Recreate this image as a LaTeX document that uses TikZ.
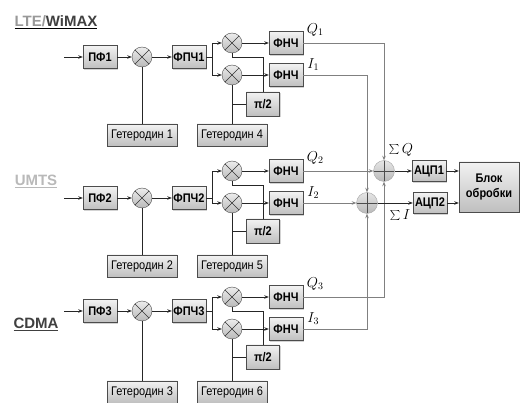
\documentclass[tikz,border=0pt]{standalone}
\usepackage{fontspec}
\setmainfont{Liberation Sans}
\newfontfamily\condfont[FakeStretch=0.88]{Liberation Sans}
\usetikzlibrary{arrows.meta,shadows,calc}
\begin{document}
\begin{tikzpicture}[x=1pt,y=-1pt,
 blk/.style={draw=gray!60!black, top color=gray!10, bottom color=gray!50, minimum width=34pt, minimum height=23pt, inner sep=0pt, font=\condfont\bfseries\fontsize{12.5}{14}\selectfont, drop shadow={shadow xshift=1.2pt,shadow yshift=-1.2pt,opacity=0.35}},
 het/.style={blk, minimum width=70pt, minimum height=22pt, font=\condfont\fontsize{12.5}{14}\selectfont},
 mix/.style={circle, draw=gray!60!black, top color=gray!15, bottom color=gray!55, minimum size=20pt, inner sep=0pt, path picture={\draw[gray!40!black] (path picture bounding box.north west) -- (path picture bounding box.south east) (path picture bounding box.north east) -- (path picture bounding box.south west);}},
 add/.style={circle, draw=gray!70, top color=gray!20, bottom color=gray!55, minimum size=21pt, inner sep=0pt, path picture={\draw[gray!60!black] (path picture bounding box.north) -- (path picture bounding box.south) (path picture bounding box.west) -- (path picture bounding box.east);}},
 sig/.style={draw=black!85, line width=0.8pt},
 arr/.style={sig, -{Stealth[length=4.5pt,width=3.5pt]}},
 gsig/.style={draw=black!50, line width=0.8pt},
 garr/.style={gsig, -{Stealth[length=4.5pt,width=3.5pt]}},
 mlabel/.style={font=\fontsize{14}{16}\selectfont, inner sep=0pt},
 std/.style={font=\bfseries\fontsize{15}{17}\selectfont, inner sep=0pt}
]
\useasboundingbox (0,0) rectangle (520,403);

% standard labels
\node[std] (lte) at (56,22) {\underline{\textcolor{gray!80}{LTE/}\textcolor{black!75}{WiMAX}}};
\node[std,text=gray!55] (umts) at (36,181) {\underline{UMTS}};
\node[std,text=black!75] (cdma) at (36,324) {\underline{CDMA}};

\foreach \r/\hb/\yp/\yu/\yl/\ypi/\yh in {1/4/57/43/75/104/135, 2/5/198/171/203/231/266, 3/6/311/297/329/357/392}{
  \coordinate (in\r) at (64,\yp);
  \node[blk] (pf\r) at (100,\yp) {ПФ\r};
  \node[mix] (m\r) at (142,\yp) {};
  \node[blk] (fp\r) at (189,\yp) {ФПЧ\r};
  \coordinate (br\r) at (212,\yp);
  \node[mix] (mu\r) at (232,\yu) {};
  \node[mix] (ml\r) at (232,\yl) {};
  \node[blk] (fq\r) at (286,\yu) {ФНЧ};
  \node[blk] (fi\r) at (286,\yl) {ФНЧ};
  \node[blk, minimum width=33pt, minimum height=24pt] (pi\r) at (263,\ypi) {π/2};
  \node[het] (ha\r) at (142,\yh) {Гетеродин \r};
  \node[het] (hb\r) at (232,\yh) {Гетеродин \hb};
  \node[mlabel] (lq\r) at ($(fq\r.east)+(12,-13)$) {$Q_{\r}$};
  \node[mlabel] (li\r) at ($(fi\r.east)+(10,-10)$) {$I_{\r}$};
}

% summation and output
\node[add] (sq) at (384,171) {};
\node[add] (si) at (367,203) {};
\node[mlabel] (lsq) at (401,150) {$\sum Q$};
\node[mlabel] (lsi) at (400,215) {$\sum I$};
\node[blk, minimum height=21pt] (adc1) at (429,171) {АЦП1};
\node[blk, minimum height=21pt] (adc2) at (430,203) {АЦП2};
\node[blk, minimum width=60pt, minimum height=50pt, align=center, font=\condfont\bfseries\fontsize{12.5}{15}\selectfont] (blok) at (489,187) {Блок\\обробки};

\foreach \r in {1,2,3}{
  \draw[arr] (in\r) -- (pf\r.west);
  \draw[arr] (pf\r) -- (m\r);
  \draw[arr] (m\r) -- (fp\r);
  \draw[sig] (ha\r.north) -- (m\r.south);
  \draw[sig] (fp\r.east) -- (br\r);
  \draw[arr] (br\r) |- (mu\r.west);
  \draw[arr] (br\r) |- (ml\r.west);
  \draw[arr] (mu\r.east) -- (fq\r.west);
  \draw[arr] (ml\r.east) -- (fi\r.west);
  \draw[sig] (hb\r.north) -- (ml\r.south);
  \draw[sig] (pi\r.west) -- (pi\r.west -| ml\r.south);
  \draw[sig] (pi\r.north) |- ([yshift=-4pt]mu\r.south) -- (mu\r.south);
}

\draw[garr] (fq1.east) -| (sq.north);
\draw[garr] (fi1.east) -| (si.north);
\draw[garr] (fq2.east) -- (sq.west);
\draw[garr] (fi2.east) -- (si.west);
\draw[garr] (fq3.east) -| (sq.south);
\draw[garr] (fi3.east) -| (si.south);
\draw[arr] (sq.east) -- (adc1.west);
\draw[arr] (si.east) -- (adc2.west);
\draw[arr] (adc1.east) -- (adc1.east -| blok.west);
\draw[arr] (adc2.east) -- (adc2.east -| blok.west);
\end{tikzpicture}
\end{document}
